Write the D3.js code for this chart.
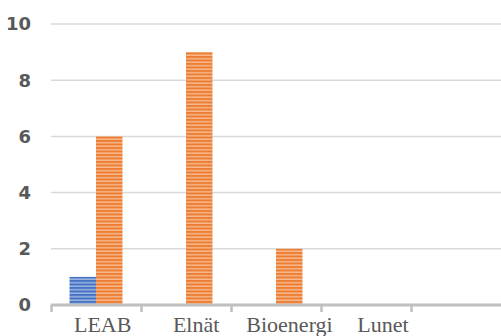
<!DOCTYPE html>
<html><head><meta charset="utf-8">
<script src="https://cdn.jsdelivr.net/npm/d3@7"></script>
<style>html,body{margin:0;padding:0;background:#fff;}svg{display:block;}</style>
</head><body>
<script>
const categories = ["LEAB", "Elnät", "Bioenergi", "Lunet", ""];
const seriesNames = ["Serie 1", "Serie 2"];
const series1 = [1, 0, 0, 0, 0];
const series2 = [6, 9, 2, 0, 0];
const yTicks = [0, 2, 4, 6, 8, 10];

const W = 501, H = 336;
const svg = d3.select("body").append("svg").attr("width", W).attr("height", H);
const defs = svg.append("defs");
function stripe(id, dark, light) {
  const p = defs.append("pattern").attr("id", id).attr("patternUnits", "userSpaceOnUse")
    .attr("width", 8).attr("height", 3.5);
  p.append("rect").attr("width", 8).attr("height", 3.5).attr("fill", light);
  p.append("rect").attr("width", 8).attr("height", 2).attr("fill", dark);
}
stripe("pBlue", "#4472C4", "#9DB4E0");
stripe("pOrange", "#ED7D31", "#F6B88E");

const y = d3.scaleLinear().domain([0, 10]).range([305, 24]);
const x = d3.scaleBand().domain(categories).range([51, 501]).padding(0);
const x1 = d3.scaleBand().domain(seriesNames).range([0, x.bandwidth()]).paddingInner(0).paddingOuter(0.7);
const xLabel = d3.scaleBand().domain(categories).range([56, 523]).padding(0);

// gridlines
svg.append("g").selectAll("line").data(yTicks.filter(d => d > 0)).join("line")
  .attr("x1", 51).attr("x2", W).attr("y1", d => y(d)).attr("y2", d => y(d))
  .attr("stroke", "#d9d9d9").attr("stroke-width", 1.5);

// y labels
svg.append("g").selectAll("text").data(yTicks).join("text")
  .attr("x", 31).attr("y", d => y(d)).attr("dy", "0.36em").attr("text-anchor", "end")
  .attr("font-family", "DejaVu Sans").attr("font-weight", "bold").attr("font-size", 18)
  .attr("fill", "#595959").text(d => d);

// bars
const data = categories.map((c, i) => ({ c, vals: [series1[i], series2[i]] }));
const g = svg.append("g").selectAll("g").data(data).join("g")
  .attr("transform", d => `translate(${x(d.c)},0)`);
g.selectAll("rect").data(d => d.vals.map((v, j) => ({ v, s: seriesNames[j], j }))).join("rect")
  .attr("x", d => x1(d.s)).attr("width", x1.bandwidth())
  .attr("y", d => y(d.v)).attr("height", d => y(0) - y(d.v))
  .attr("fill", d => d.j === 0 ? "url(#pBlue)" : "url(#pOrange)");

// x axis
svg.append("line").attr("x1", 51).attr("x2", W).attr("y1", 305).attr("y2", 305)
  .attr("stroke", "#bfbfbf").attr("stroke-width", 3);
svg.append("g").selectAll("line").data(categories).join("line")
  .attr("x1", d => x(d) + 0.5).attr("x2", d => x(d) + 0.5).attr("y1", 305).attr("y2", 312)
  .attr("stroke", "#bfbfbf").attr("stroke-width", 2.5);

svg.append("g").selectAll("text").data(categories).join("text")
  .attr("x", d => xLabel(d) + xLabel.bandwidth() / 2).attr("y", 332)
  .attr("text-anchor", "middle").attr("font-family", "Liberation Serif").attr("font-size", 22)
  .attr("fill", "#595959").text(d => d);
</script>
</body></html>
